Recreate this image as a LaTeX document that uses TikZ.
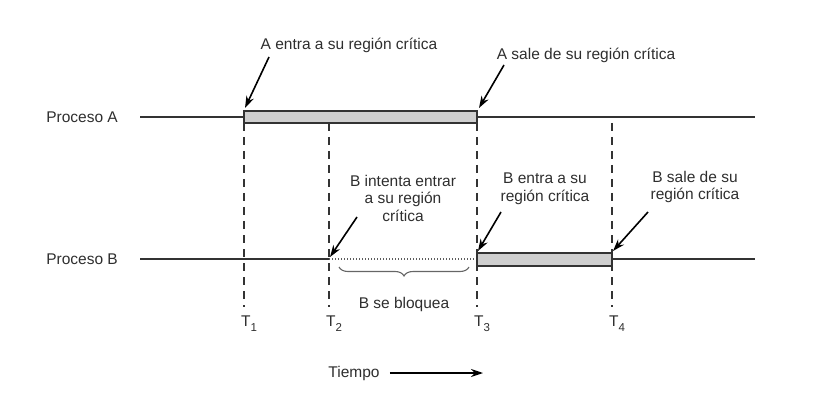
\documentclass[tikz,border=0pt]{standalone}
\usepackage{fontspec}
\setmainfont{Liberation Sans}
\usetikzlibrary{arrows.meta,decorations.pathreplacing}

\definecolor{ink}{HTML}{333333}
\definecolor{txtgray}{HTML}{2E2E2E}
\definecolor{barfill}{HTML}{CFCFCF}

\newcommand{\tsub}[1]{T\raisebox{-0.6ex}{\fontsize{11.5}{12}\selectfont #1}}

\tikzset{
    lbl/.style={text=txtgray, font=\fontsize{15.5}{17.5}\selectfont, inner sep=0pt, align=center},
    timeline/.style={draw=ink, line width=1.8pt},
    crit/.style={draw=ink, line width=1.8pt, fill=barfill},
    tmark/.style={draw=ink, line width=1.5pt, dash pattern=on 8pt off 6pt},
    blocked/.style={draw=ink!80, line width=1.4pt, dash pattern=on 1.4pt off 1.6pt},
    pointer/.style={draw=black, line width=1.6pt, -{Stealth[length=12pt,width=8pt]}}
}

\begin{document}
\begin{tikzpicture}[x=1pt,y=-1pt]
    \useasboundingbox (0,0) rectangle (818,403);

    % Define process labels
    \node[lbl, anchor=east] (procA) at (118,117) {Proceso A};
    \node[lbl, anchor=east] (procB) at (118,259) {Proceso B};

    % Define time marks
    \coordinate (t1) at (244,123);
    \coordinate (t2) at (329,123);
    \coordinate (t3) at (477,123);
    \coordinate (t4) at (612,123);
    \node[lbl] (T1) at (249,324) {\tsub{1}};
    \node[lbl] (T2) at (334,324) {\tsub{2}};
    \node[lbl] (T3) at (482,324) {\tsub{3}};
    \node[lbl] (T4) at (617,324) {\tsub{4}};

    % Draw dashed time marks
    \draw[tmark] (t1) -- (244,307);
    \draw[tmark] (t2) -- (329,307);
    \draw[tmark] (t3) -- (477,307);
    \draw[tmark] (t4) -- (612,307);

    % Draw process A
    \draw[timeline] (140,117) -- (244,117);
    \draw[timeline] (477,117) -- (755,117);
    \draw[crit] (244,111) rectangle (477,123);

    % Draw process B
    \draw[timeline] (140,259) -- (329,259);
    \draw[blocked] (329,259) -- (477,259);
    \draw[timeline] (612,259) -- (755,259);
    \draw[crit] (477,253) rectangle (612,266);

    % Define event labels
    \node[lbl] (entA) at (349,45) {A entra a su región crítica};
    \node[lbl] (salA) at (586,55) {A sale de su región crítica};
    \node[lbl] (intB) at (403,198) {B intenta entrar\\a su región\\crítica};
    \node[lbl] (entB) at (545,189) {B entra a su\\región crítica};
    \node[lbl] (salB) at (695,187) {B sale de su\\región crítica};
    \node[lbl] (bloq) at (404,304) {B se bloquea};
    \node[lbl] (tiempo) at (354,373) {Tiempo};

    % Draw arrows to events
    \coordinate (pA1) at (245,108);
    \coordinate (pA2) at (479,108);
    \coordinate (pB1) at (330,257);
    \coordinate (pB2) at (478,251);
    \coordinate (pB3) at (613,251);
    \draw[pointer] (269,57) -- (pA1);
    \draw[pointer] (504,65) -- (pA2);
    \draw[pointer] (357,217) -- (pB1);
    \draw[pointer] (501,212) -- (pB2);
    \draw[pointer] (648,212) -- (pB3);

    % Draw brace and time arrow
    \draw[draw=ink!75, line width=1.1pt, decorate, decoration={brace, mirror, amplitude=9pt}] (339,267) -- (469,267);
    \coordinate (tEnd) at (483,373);
    \draw[pointer] (tiempo.east) ++(10,0) -- (tEnd);
\end{tikzpicture}
\end{document}
